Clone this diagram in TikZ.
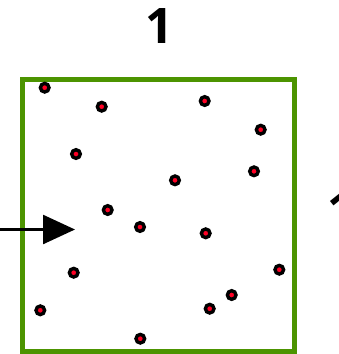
\documentclass[tikz,border=0pt]{standalone}
\usepackage{fontspec}
\setmainfont{Open Sans}
\usetikzlibrary{arrows.meta}
\definecolor{boxgreen}{RGB}{76,148,0}
\definecolor{dotred}{RGB}{255,0,36}
\tikzset{
  dot/.style={circle, draw=black, fill=dotred, line width=3.4pt, minimum size=8.6pt, inner sep=0pt},
  sidelabel/.style={font=\fontsize{49}{49}\selectfont\bfseries, inner sep=0pt},
  boxframe/.style={draw=boxgreen, line width=5pt, minimum width=272pt, minimum height=272pt, inner sep=0pt},
  pointer/.style={line width=2.5pt, -{Triangle[length=32pt,width=29pt]}}
}
\begin{document}
\begin{tikzpicture}[x=1pt,y=-1pt]
\useasboundingbox (0,0) rectangle (339,354);
\clip (0,0) rectangle (339,354);
\fill[white] (0,0) rectangle (339,354);
\node[boxframe] (box) at (158.5,215.5) {};
\node[sidelabel] (top) at (159,26) {1};
\node[sidelabel, anchor=west] (right) at (327,210) {1};
\coordinate (start) at (-2,229.5);
\coordinate (tip) at (75,229.5);
\draw[pointer] (start) -- (tip);
\foreach \x/\y [count=\i] in {44.7/87.7, 101.7/106.7, 204.7/101, 260.7/129.7, 76/154, 175/180.3, 254/171.3, 107.7/210, 140/227, 205.7/233.3, 73.7/272.7, 279.3/269.7, 40.3/310.3, 231.7/295, 209.7/308.7, 140.3/338.7}
  \node[dot] (d\i) at (\x,\y) {};
\end{tikzpicture}
\end{document}
